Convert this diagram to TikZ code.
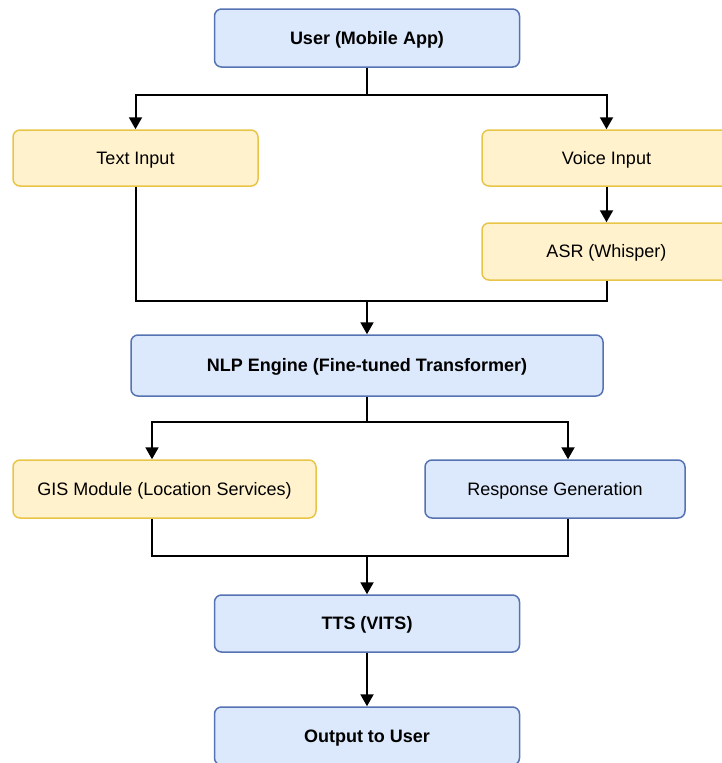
\documentclass[tikz,border=0pt]{standalone}
\usepackage{fontspec}
\setmainfont{Liberation Sans}
\usetikzlibrary{arrows.meta}
\definecolor{bluefill}{HTML}{DCE8FB}
\definecolor{blueline}{HTML}{5572B2}
\definecolor{yelfill}{HTML}{FFF2CC}
\definecolor{yelline}{HTML}{E8C547}
\begin{document}
\begin{tikzpicture}[x=1pt,y=-1pt,
  box/.style={rounded corners=7pt, line width=1.5pt, inner sep=0pt, align=center,
    text height=12.9pt, text depth=0pt},
  bluebox/.style={box, draw=blueline, fill=bluefill},
  yelbox/.style={box, draw=yelline, fill=yelfill},
  reg/.style={font=\fontsize{18}{21}\selectfont},
  bold/.style={font=\fontsize{18}{21}\selectfont\bfseries},
  conn/.style={line width=2pt, draw=black},
  arr/.style={conn, -{Triangle[length=12pt,width=13pt]}},
]
\useasboundingbox (0,0) rectangle (721,763);
\fill[white] (0,0) rectangle (721,763);

\node[bluebox, bold, minimum width=305pt, minimum height=58pt] (user) at (367,38) {User (Mobile App)};
\node[yelbox, reg, minimum width=245pt, minimum height=56pt] (text) at (135.5,158) {Text Input};
\node[yelbox, reg, minimum width=249pt, minimum height=56pt] (voice) at (606.5,158) {Voice Input};
\node[yelbox, reg, minimum width=249pt, minimum height=57pt] (asr) at (606.5,251.5) {ASR (Whisper)};
\node[bluebox, bold, minimum width=472pt, minimum height=61pt] (nlp) at (367,365.5) {NLP Engine (Fine-tuned Transformer)};
\node[yelbox, reg, minimum width=303pt, minimum height=58pt] (gis) at (164.5,489) {GIS Module (Location Services)};
\node[bluebox, reg, minimum width=260pt, minimum height=58pt] (resp) at (555,489) {Response Generation};
\node[bluebox, bold, minimum width=305pt, minimum height=57pt] (tts) at (367,623.5) {TTS (VITS)};
\node[bluebox, bold, minimum width=305pt, minimum height=58pt] (out) at (367,736) {Output to User};

\coordinate (s1) at (367,95);
\coordinate (m1) at (367,301);
\coordinate (s2) at (367,422);
\coordinate (m2) at (367,556);

\draw[conn] (user.south) -- (s1);
\draw[arr] (s1) -| (text.north);
\draw[arr] (s1) -| (voice.north);
\draw[arr] (voice.south) -- (asr.north);
\draw[conn] (text.south) |- (m1);
\draw[conn] (asr.south) |- (m1);
\draw[arr] (m1) -- (nlp.north);
\draw[conn] (nlp.south) -- (s2);
\draw[arr] (s2) -| ([xshift=-12.5pt]gis.north);
\draw[arr] (s2) -| ([xshift=13pt]resp.north);
\draw[conn] ([xshift=-12.5pt]gis.south) |- (m2);
\draw[conn] ([xshift=13pt]resp.south) |- (m2);
\draw[arr] (m2) -- (tts.north);
\draw[arr] (tts.south) -- (out.north);
\end{tikzpicture}
\end{document}
